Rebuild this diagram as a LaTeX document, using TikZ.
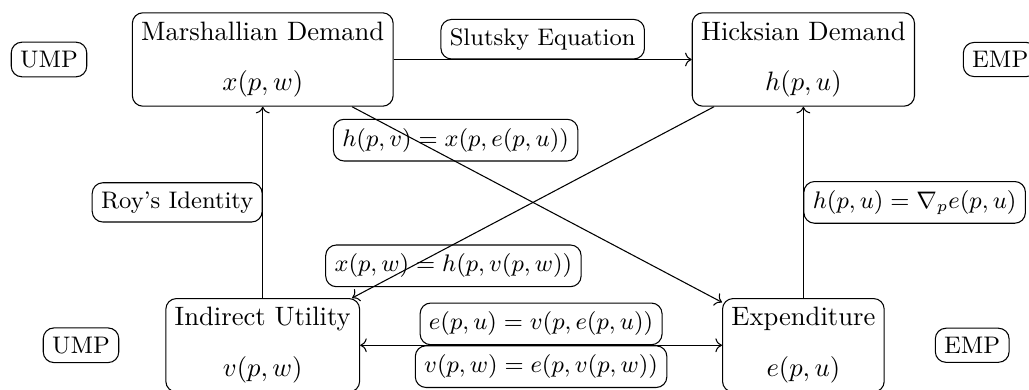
\documentclass[tikz,border=0pt]{standalone}
\usepackage{tikz}
\usetikzlibrary{arrows.meta,positioning}
\begin{document}
\begin{tikzpicture}[
  func/.style={rectangle, draw, rounded corners, align=center},
  rel/.style={rectangle, draw, rounded corners, font=\small},
  prob/.style={rectangle, draw, rounded corners, font=\small}
]
  \useasboundingbox (0,0) rectangle (13.59,-5.15);
  % demand functions
  \node[func] (marsh) at (3.47,-0.786) {Marshallian Demand\\[7pt] $x(p,w)$};
  \node[func] (hicks) at (10.61,-0.786) {Hicksian Demand\\[7pt] $h(p,u)$};
  % value functions
  \node[func] (indir) at (3.47,-4.56) {Indirect Utility\\[7pt] $v(p,w)$};
  \node[func] (expend) at (10.61,-4.56) {Expenditure\\[7pt] $e(p,u)$};
  % problems
  \node[prob] (ump1) at (0.647,-0.786) {UMP};
  \node[prob] (emp1) at (13.21,-0.786) {EMP};
  \node[prob] (ump2) at (1.07,-4.56) {UMP};
  \node[prob] (emp2) at (12.84,-4.56) {EMP};
  % relations
  \draw[->] (marsh) -- node[rel, above] {Slutsky Equation} (hicks);
  \draw[->] (indir) -- node[rel, left] {Roy's Identity} (marsh);
  \draw[->] (expend) -- node[rel, right] {$h(p,u) = \nabla_p e(p,u)$} (hicks);
  \draw[->] (marsh) -- node[rel, above, pos=0.28] {$h(p,v) = x(p,e(p,u))$} (expend);
  \draw[->] (hicks) -- node[rel, below, pos=0.72] {$x(p,w) = h(p,v(p,w))$} (indir);
  \draw[<->] (indir) -- node[rel, above] {$e(p,u) = v(p,e(p,u))$}
    node[rel, below] {$v(p,w) = e(p,v(p,w))$} (expend);
\end{tikzpicture}
\end{document}
